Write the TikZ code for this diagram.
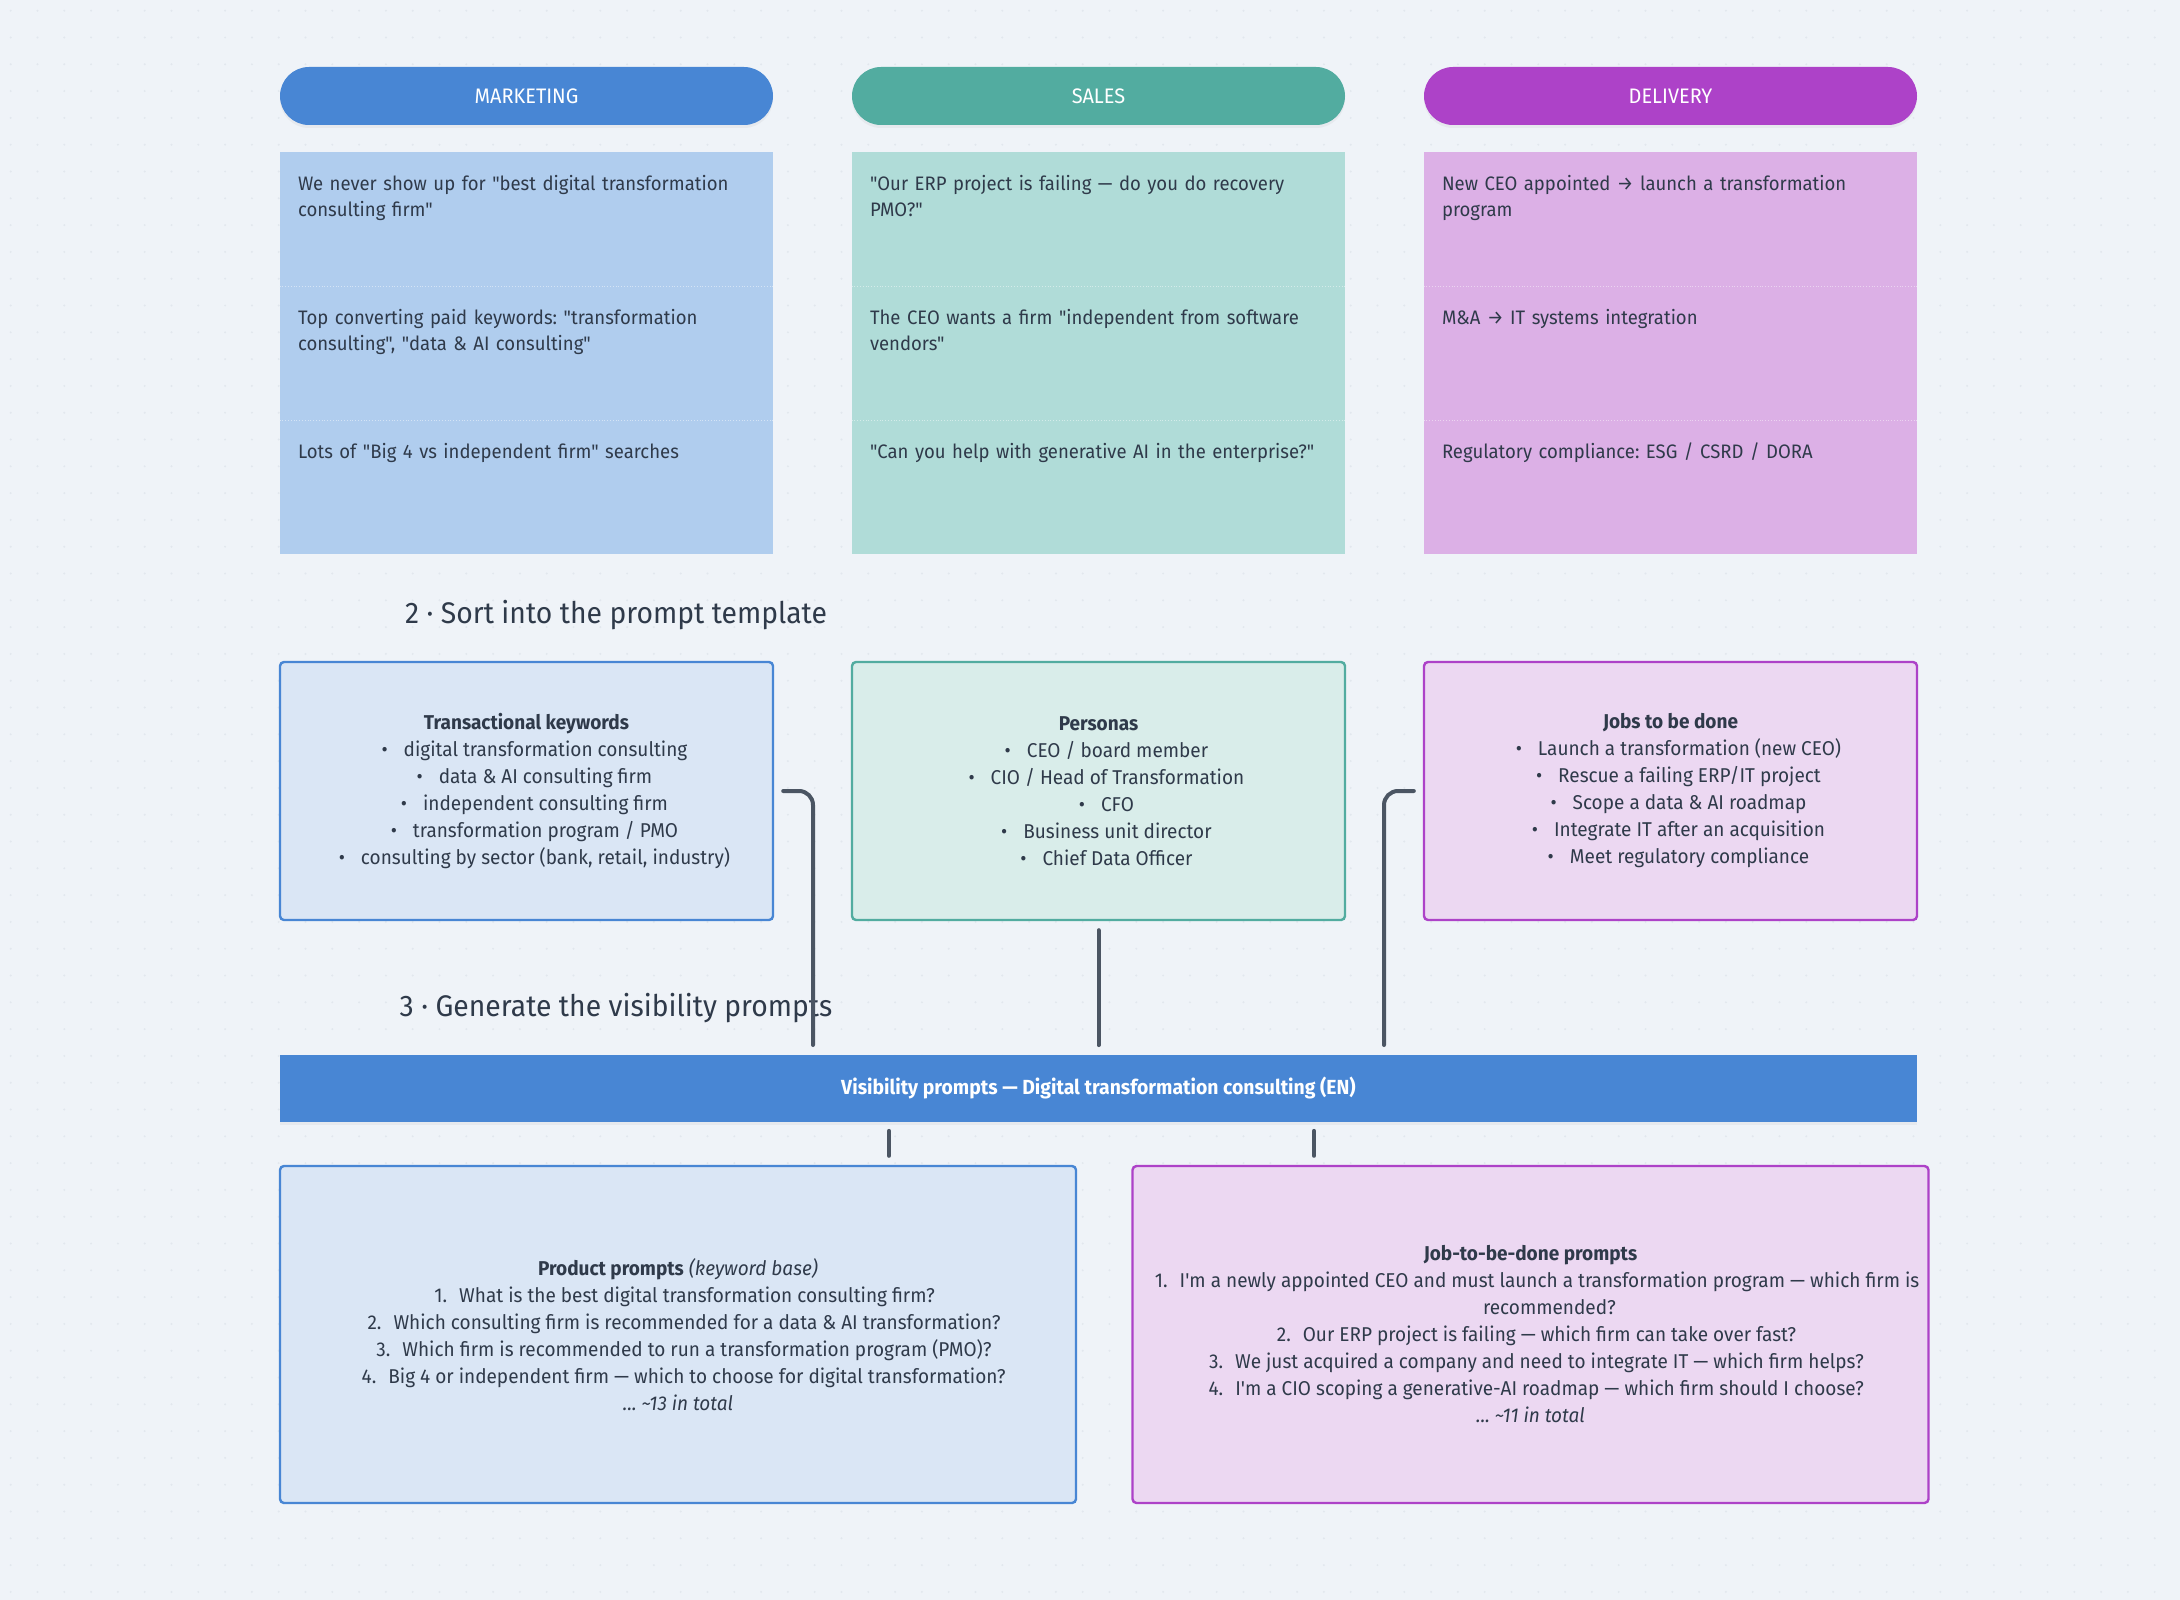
\documentclass[tikz,border=0pt]{standalone}
\usepackage{fontspec}
\setmainfont{Fira Sans}[Ligatures=TeXOff, FakeStretch=0.95]
\usepackage{xcolor}
\usetikzlibrary{positioning,shadows}

\definecolor{bgcol}{HTML}{EFF3F8}
\definecolor{dotcol}{HTML}{E2E7EE}
\definecolor{inkcol}{HTML}{2F3A4A}
\definecolor{linecol}{HTML}{4B5563}
\definecolor{mktcol}{HTML}{4886D4}
\definecolor{salcol}{HTML}{52ACA0}
\definecolor{delcol}{HTML}{AD42C8}
\definecolor{mktcard}{HTML}{B0CDEE}
\definecolor{salcard}{HTML}{B0DCD8}
\definecolor{delcard}{HTML}{DCB0E6}
\definecolor{mktbox}{HTML}{DAE6F5}
\definecolor{salbox}{HTML}{D9EDEA}
\definecolor{delbox}{HTML}{ECD8F2}

% list lines: marker hangs left, item text centred with an indent
\newcommand{\bitem}[1]{\hspace*{19pt}\llap{•\hspace{8pt}}#1}
\newcommand{\nitem}[2]{\hspace*{19pt}\llap{#1.\hspace{6pt}}#2}

\begin{document}
\frenchspacing
\begin{tikzpicture}[
    x=0.5pt, y=-0.5pt,
    pill/.style={fill=#1col, rounded corners=14.5pt, minimum width=246.5pt, minimum height=29pt,
      inner sep=0pt, text=white, font=\fontsize{10.5}{12}\selectfont,
      drop shadow={opacity=0.08, shadow xshift=0pt, shadow yshift=-1.5pt}},
    card/.style={fill=#1card, minimum width=246.5pt, minimum height=67pt, inner sep=0pt},
    sepline/.style={draw=white!45!#1card, densely dotted, line width=0.4pt},
    cardtext/.style={text width=236pt, align=left, inner sep=0pt, text=inkcol,
      font=\fontsize{9.75}{13}\selectfont},
    sortbox/.style={draw=#1col, fill=#1box, line width=1.2pt, rounded corners=2pt,
      minimum width=246.5pt, minimum height=129pt, inner sep=0pt, align=center,
      text=inkcol, font=\fontsize{10}{13.5}\selectfont},
    promptbox/.style={draw=#1col, fill=#1box, line width=1.2pt, rounded corners=2pt,
      minimum width=398pt, minimum height=168.5pt, inner sep=0pt, align=center,
      text=inkcol, font=\fontsize{10}{13.5}\selectfont},
    steptitle/.style={text=inkcol, font=\fontsize{14.9}{16}\selectfont, inner sep=0pt},
    conn/.style={draw=linecol, line width=2pt, line cap=round, rounded corners=7pt,
      shorten <=4.5pt}
  ]
  % Canvas and dot grid
  \fill[bgcol] (0,0) rectangle (2180,1600);
  \useasboundingbox (0,0) rectangle (2180,1600);
  \foreach \i in {0,...,80}{
    \foreach \j in {0,...,59}{
      \fill[dotcol] (10.7+26.8*\i,10.7+26.8*\j) circle (0.55pt);
    }
  }

  % 1 - Team headers
  \node[pill=mkt] (mkt) at (526.5,96) {MARKETING};
  \node[pill=sal] (sal) at (1098.5,96) {SALES};
  \node[pill=del] (del) at (1670.5,96) {DELIVERY};

  % Marketing cards
  \node[card=mkt] (m1) at (526.5,219) {};
  \node[card=mkt] (m2) at (526.5,353) {};
  \node[card=mkt] (m3) at (526.5,487) {};
  \draw[sepline=mkt] (m1.south west) -- (m1.south east);
  \draw[sepline=mkt] (m2.south west) -- (m2.south east);
  \node[cardtext, below right=11.5pt and 9pt of m1.north west] (m1t) {We never show up for "best digital transformation\\consulting firm"};
  \node[cardtext, below right=11.5pt and 9pt of m2.north west] (m2t) {Top converting paid keywords: "transformation\\consulting", "data \& AI consulting"};
  \node[cardtext, below right=11.5pt and 9pt of m3.north west] (m3t) {Lots of "Big 4 vs independent firm" searches};

  % Sales cards
  \node[card=sal] (s1) at (1098.5,219) {};
  \node[card=sal] (s2) at (1098.5,353) {};
  \node[card=sal] (s3) at (1098.5,487) {};
  \draw[sepline=sal] (s1.south west) -- (s1.south east);
  \draw[sepline=sal] (s2.south west) -- (s2.south east);
  \node[cardtext, below right=11.5pt and 9pt of s1.north west] (s1t) {"Our ERP project is failing — do you do recovery\\PMO?"};
  \node[cardtext, below right=11.5pt and 9pt of s2.north west] (s2t) {The CEO wants a firm "independent from software\\vendors"};
  \node[cardtext, below right=11.5pt and 9pt of s3.north west] (s3t) {"Can you help with generative AI in the enterprise?"};

  % Delivery cards
  \node[card=del] (d1) at (1670.5,219) {};
  \node[card=del] (d2) at (1670.5,353) {};
  \node[card=del] (d3) at (1670.5,487) {};
  \draw[sepline=del] (d1.south west) -- (d1.south east);
  \draw[sepline=del] (d2.south west) -- (d2.south east);
  \node[cardtext, below right=11.5pt and 9pt of d1.north west] (d1t) {New CEO appointed → launch a transformation\\program};
  \node[cardtext, below right=11.5pt and 9pt of d2.north west] (d2t) {M\&A → IT systems integration};
  \node[cardtext, below right=11.5pt and 9pt of d3.north west] (d3t) {Regulatory compliance: ESG / CSRD / DORA};

  % 2 - Prompt template
  \node[steptitle] (step2) at (616,615) {2 · Sort into the prompt template};
  \node[sortbox=mkt] (kw) at (526.5,791) {\textbf{Transactional keywords}\\
    \bitem{digital transformation consulting}\\
    \bitem{data \& AI consulting firm}\\
    \bitem{independent consulting firm}\\
    \bitem{transformation program / PMO}\\
    \bitem{consulting by sector (bank, retail, industry)}};
  \node[sortbox=sal] (pers) at (1098.5,791) {\textbf{Personas}\\
    \bitem{CEO / board member}\\
    \bitem{CIO / Head of Transformation}\\
    \bitem{CFO}\\
    \bitem{Business unit director}\\
    \bitem{Chief Data Officer}};
  \node[sortbox=del] (jobs) at (1670.5,791) {\textbf{Jobs to be done}\\
    \bitem{Launch a transformation (new CEO)}\\
    \bitem{Rescue a failing ERP/IT project}\\
    \bitem{Scope a data \& AI roadmap}\\
    \bitem{Integrate IT after an acquisition}\\
    \bitem{Meet regulatory compliance}};

  % 3 - Visibility prompts
  \node[steptitle] (step3) at (616,1008) {3 · Generate the visibility prompts};
  \node[fill=mktcol, minimum width=818.5pt, minimum height=33.5pt, inner sep=0pt, text=white,
    font=\fontsize{10.2}{12}\selectfont\bfseries,
    drop shadow={opacity=0.08, shadow xshift=0pt, shadow yshift=-1.5pt}] (vis) at (1098.5,1088)
    {Visibility prompts — Digital transformation consulting (EN)};
  \node[promptbox=mkt] (prod) at (678,1334.5) {\textbf{Product prompts} \textit{(keyword base)}\\
    \nitem{1}{What is the best digital transformation consulting firm?}\\
    \nitem{2}{Which consulting firm is recommended for a data \& AI transformation?}\\
    \nitem{3}{Which firm is recommended to run a transformation program (PMO)?}\\
    \nitem{4}{Big 4 or independent firm — which to choose for digital transformation?}\\
    \textit{... \textasciitilde13 in total}};
  \node[promptbox=del] (jtbd) at (1530.5,1334.5) {\textbf{Job-to-be-done prompts}\\
    \nitem{1}{I'm a newly appointed CEO and must launch a transformation program — which firm is}\\
    \hspace*{19pt}recommended?\\
    \nitem{2}{Our ERP project is failing — which firm can take over fast?}\\
    \nitem{3}{We just acquired a company and need to integrate IT — which firm helps?}\\
    \nitem{4}{I'm a CIO scoping a generative-AI roadmap — which firm should I choose?}\\
    \textit{... \textasciitilde11 in total}};

  % Connectors
  \coordinate (kwin) at (813,1045);
  \coordinate (jobsin) at (1384,1045);
  \coordinate (prodout) at (889,0);
  \coordinate (jtbdout) at (1314,0);
  \draw[conn] (kw.east) -| (kwin);
  \draw[conn, shorten >=4.5pt] (pers) -- (vis);
  \draw[conn] (jobs.west) -| (jobsin);
  \draw[conn, shorten >=4.5pt] (vis.south -| prodout) -- (prod.north -| prodout);
  \draw[conn, shorten >=4.5pt] (vis.south -| jtbdout) -- (jtbd.north -| jtbdout);
\end{tikzpicture}
\end{document}
